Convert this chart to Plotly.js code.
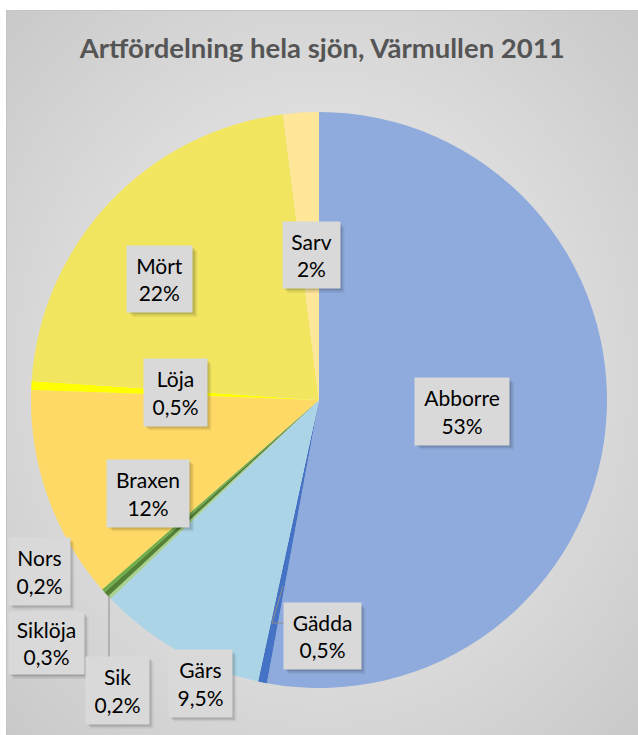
<!DOCTYPE html>
<html><head><meta charset="utf-8">
<script src="https://cdn.plot.ly/plotly-3.0.1.min.js"></script>
<style>
html,body{margin:0;padding:0;background:#fff;}
#wrap{position:relative;width:638px;height:735px;background:#fff;}
#frame{position:absolute;left:6px;top:10px;right:0;bottom:0;
 background:radial-gradient(ellipse at 50% 50%, #ececec 0%, #e0e0e0 45%, #c9c9c9 100%);
 border-left:1px solid #c4c4c4;border-top:1px solid #c4c4c4;}
#chart{position:absolute;left:0;top:0;width:638px;height:735px;}
</style></head>
<body><div id="wrap"><div id="frame"></div><div id="chart"></div></div>
<script>
const species = ["Abborre","Gädda","Gärs","Sik","Siklöja","Nors","Braxen","Löja","Mört","Sarv"];
const shares = [53, 0.5, 9.5, 0.2, 0.3, 0.2, 12, 0.5, 22, 2];
const colors = ["#8FAADC","#4472C4","#ABD5E7","#A9D18E","#548235","#70AD47","#FFD966","#FFFF00","#F2E661","#FFE699"];

// label box centres and sizes (pixels) – layout only
const boxPos = {
 "Abborre":[462,411],"Gädda":[322,636],"Gärs":[200,683],"Sik":[117,690],
 "Siklöja":[46,643],"Nors":[39,571],"Braxen":[148,493],"Löja":[175,392],
 "Mört":[160,279],"Sarv":[311,255]
};
const boxSize={"Abborre":[94,67],"Gädda":[77,66],"Gärs":[63,67],"Sik":[63,67],"Siklöja":[75,62],
 "Nors":[61,67],"Braxen":[82,67],"Löja":[63,67],"Mört":[65,66],"Sarv":[57,66]};
const W=638,H=735;
const px=x=>x/W, py=y=>1-y/H;
const fmt=v=>String(v).replace('.',',')+'%';

const annotations=[], shapes=[];
species.forEach((s,i)=>{
 const [cx,cy]=boxPos[s]; const [w,h]=boxSize[s];
 annotations.push({x:px(cx),y:py(cy),xref:'paper',yref:'paper',xanchor:'center',yanchor:'middle',showarrow:false,
  text:s+'<br>'+fmt(shares[i]),font:{family:'Lato, Calibri, sans-serif',size:21,color:'#000'},
  bgcolor:'#D9D9D9',borderpad:0,width:w,height:h,align:'center',valign:'middle'});
});
// soft shadows behind the boxes
species.forEach(s=>{
 const [cx,cy]=boxPos[s]; const [w,h]=boxSize[s];
 [[5,0.06],[3.5,0.08],[2,0.1]].forEach(([o,a])=>{
  shapes.push({type:'rect',xref:'paper',yref:'paper',layer:'above',
   x0:px(cx-w/2+o),x1:px(cx+w/2+o),y0:py(cy+h/2+o),y1:py(cy-h/2+o),
   fillcolor:'rgba(0,0,0,'+a+')',line:{width:0}});
 });
});
// leader lines
shapes.push({type:'path',xref:'paper',yref:'paper',layer:'above',
 path:`M ${px(283)} ${py(586)} L ${px(272)} ${py(623)} L ${px(284)} ${py(623)}`,
 line:{color:'#8c8c8c',width:1}});
shapes.push({type:'line',xref:'paper',yref:'paper',layer:'above',
 x0:px(109),x1:px(109),y0:py(595),y1:py(657),line:{color:'#8c8c8c',width:1}});

const cxp=319, cyp=400, r=288;
const data=[{type:'pie',labels:species,values:shares,sort:false,direction:'clockwise',rotation:0,
 marker:{colors:colors,line:{width:0}},textinfo:'none',hoverinfo:'label+percent',
 domain:{x:[px(cxp-r),px(cxp+r)],y:[py(cyp+r),py(cyp-r)]},showlegend:false}];

const layout={width:W,height:H,margin:{l:0,r:0,t:0,b:0},
 paper_bgcolor:'rgba(0,0,0,0)',plot_bgcolor:'rgba(0,0,0,0)',showlegend:false,
 title:{text:'<b>Artfördelning hela sjön, Värmullen 2011</b>',x:0.505,xanchor:'center',y:1-48/H,yanchor:'middle',
  font:{family:'Lato, Calibri, sans-serif',size:27.5,color:'#555555'}},
 annotations:annotations,shapes:shapes};
Plotly.newPlot('chart',data,layout,{displayModeBar:false,staticPlot:true});
</script></body></html>
